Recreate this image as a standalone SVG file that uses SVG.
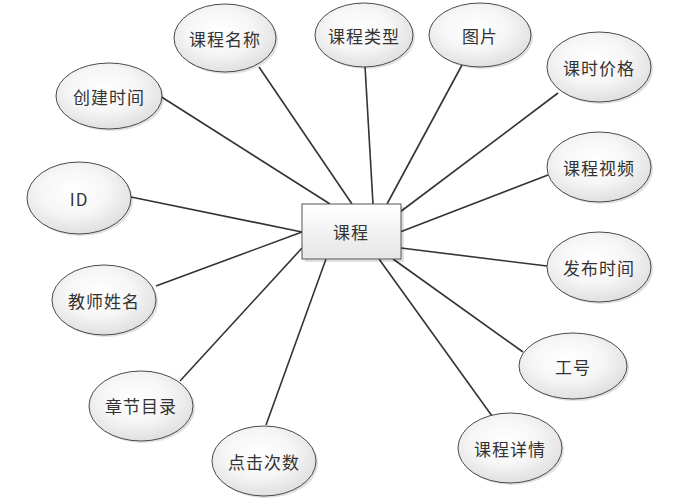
<svg xmlns="http://www.w3.org/2000/svg" width="680" height="504" viewBox="0 0 680 504">
<defs>
<radialGradient id="eg" cx="0.45" cy="0.4" r="0.65">
<stop offset="0" stop-color="#ffffff"/>
<stop offset="0.5" stop-color="#f6f6f6"/>
<stop offset="1" stop-color="#dcdcdc"/>
</radialGradient>
<linearGradient id="rg" x1="0" y1="0" x2="0" y2="1">
<stop offset="0" stop-color="#ffffff"/>
<stop offset="1" stop-color="#e6e6e6"/>
</linearGradient>
</defs>
<style>
.e{fill:url(#eg);stroke:#4a4a4a;stroke-width:1}
.s{fill:#000;opacity:0.12}
.t{font-family:"Noto Sans CJK SC","Liberation Sans",sans-serif;font-size:17px;fill:#333;text-anchor:middle;dominant-baseline:central;letter-spacing:1px}
.c line{stroke:#333;stroke-width:1.6}
</style>
<rect width="680" height="504" fill="#fff"/>
<g class="c" id="connectors">
<line x1="160" y1="96" x2="330" y2="204"/>
<line x1="259" y1="67" x2="352" y2="204"/>
<line x1="365" y1="66" x2="373" y2="204"/>
<line x1="462" y1="65" x2="387" y2="204"/>
<line x1="558" y1="93" x2="400" y2="212"/>
<line x1="548" y1="175" x2="400" y2="232"/>
<line x1="547" y1="266" x2="401" y2="248"/>
<line x1="523" y1="352" x2="393" y2="259"/>
<line x1="492" y1="416" x2="379" y2="259"/>
<line x1="266" y1="425" x2="326" y2="259"/>
<line x1="180" y1="381" x2="302" y2="248"/>
<line x1="156" y1="286" x2="302" y2="232"/>
<line x1="131" y1="197" x2="302" y2="232"/>
</g>
<g id="center">
<rect class="s" x="305" y="207" width="99" height="55"/>
<rect x="302" y="204" width="99" height="55" fill="url(#rg)" stroke="#555" stroke-width="1"/>
<text class="t" x="351" y="231">课程</text>
</g>
<g id="n1"><ellipse class="s" cx="227" cy="40" rx="51" ry="34"/><ellipse class="e" cx="225" cy="38" rx="51" ry="34"/><text class="t" x="225" y="38">课程名称</text></g>
<g id="n2"><ellipse class="s" cx="366" cy="37" rx="49" ry="32"/><ellipse class="e" cx="364" cy="35" rx="49" ry="32"/><text class="t" x="364" y="35">课程类型</text></g>
<g id="n3"><ellipse class="s" cx="482" cy="37" rx="51" ry="32"/><ellipse class="e" cx="480" cy="35" rx="51" ry="32"/><text class="t" x="480" y="35">图片</text></g>
<g id="n4"><ellipse class="s" cx="601" cy="69" rx="52" ry="35"/><ellipse class="e" cx="599" cy="67" rx="52" ry="35"/><text class="t" x="599" y="67">课时价格</text></g>
<g id="n5"><ellipse class="s" cx="601" cy="169" rx="52" ry="35"/><ellipse class="e" cx="599" cy="167" rx="52" ry="35"/><text class="t" x="599" y="167">课程视频</text></g>
<g id="n6"><ellipse class="s" cx="601" cy="269" rx="52" ry="35"/><ellipse class="e" cx="599" cy="267" rx="52" ry="35"/><text class="t" x="599" y="267">发布时间</text></g>
<g id="n7"><ellipse class="s" cx="575" cy="368" rx="54" ry="33"/><ellipse class="e" cx="573" cy="366" rx="54" ry="33"/><text class="t" x="573" y="366">工号</text></g>
<g id="n8"><ellipse class="s" cx="512" cy="450" rx="52" ry="35"/><ellipse class="e" cx="510" cy="448" rx="52" ry="35"/><text class="t" x="510" y="448">课程详情</text></g>
<g id="n9"><ellipse class="s" cx="266" cy="463" rx="52" ry="35"/><ellipse class="e" cx="264" cy="461" rx="52" ry="35"/><text class="t" x="264" y="461">点击次数</text></g>
<g id="n10"><ellipse class="s" cx="143" cy="408" rx="52" ry="35"/><ellipse class="e" cx="141" cy="406" rx="52" ry="35"/><text class="t" x="141" y="405">章节目录</text></g>
<g id="n11"><ellipse class="s" cx="106" cy="302" rx="52" ry="35"/><ellipse class="e" cx="104" cy="300" rx="52" ry="35"/><text class="t" x="104" y="300">教师姓名</text></g>
<g id="n12"><ellipse class="s" cx="81" cy="200" rx="52" ry="36"/><ellipse class="e" cx="79" cy="198" rx="52" ry="36"/><text class="t" x="79" y="198">ID</text></g>
<g id="n13"><ellipse class="s" cx="111" cy="98" rx="53" ry="33"/><ellipse class="e" cx="109" cy="96" rx="53" ry="33"/><text class="t" x="109" y="96">创建时间</text></g>
</svg>
